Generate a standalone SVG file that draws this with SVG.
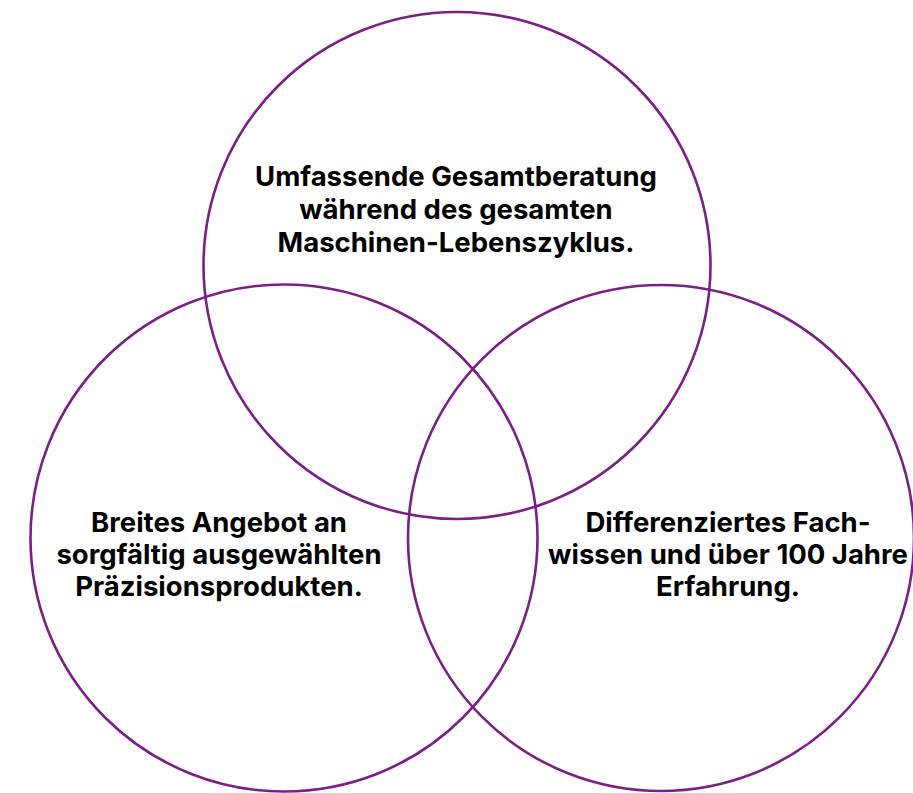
<svg xmlns="http://www.w3.org/2000/svg" width="913" height="793" viewBox="0 0 913 793">
<style>
.c{fill:none;stroke:#7b1f86;stroke-width:2.6}
.t{font-family:Inter,"Liberation Sans",Arial,sans-serif;font-weight:700;font-size:27.5px;fill:#000;text-anchor:middle}
</style>
<rect width="913" height="793" fill="#fff"/>
<g id="top">
<circle class="c" cx="457" cy="265.5" r="253.5"/>
<text class="t"><tspan x="456" y="186">Umfassende Gesamtberatung</tspan><tspan x="456" y="219">während des gesamten</tspan><tspan x="456" y="252">Maschinen-Lebenszyklus.</tspan></text>
</g>
<g id="left">
<circle class="c" cx="284" cy="538" r="253.5"/>
<text class="t"><tspan x="219" y="532">Breites Angebot an</tspan><tspan x="219" y="564">sorgfältig ausgewählten</tspan><tspan x="219" y="596">Präzisionsprodukten.</tspan></text>
</g>
<g id="right">
<circle class="c" cx="661" cy="538" r="253"/>
<text class="t"><tspan x="728" y="532">Differenziertes Fach-</tspan><tspan x="728" y="564">wissen und über 100 Jahre</tspan><tspan x="728" y="596">Erfahrung.</tspan></text>
</g>
<g id="connectors"/>
</svg>
